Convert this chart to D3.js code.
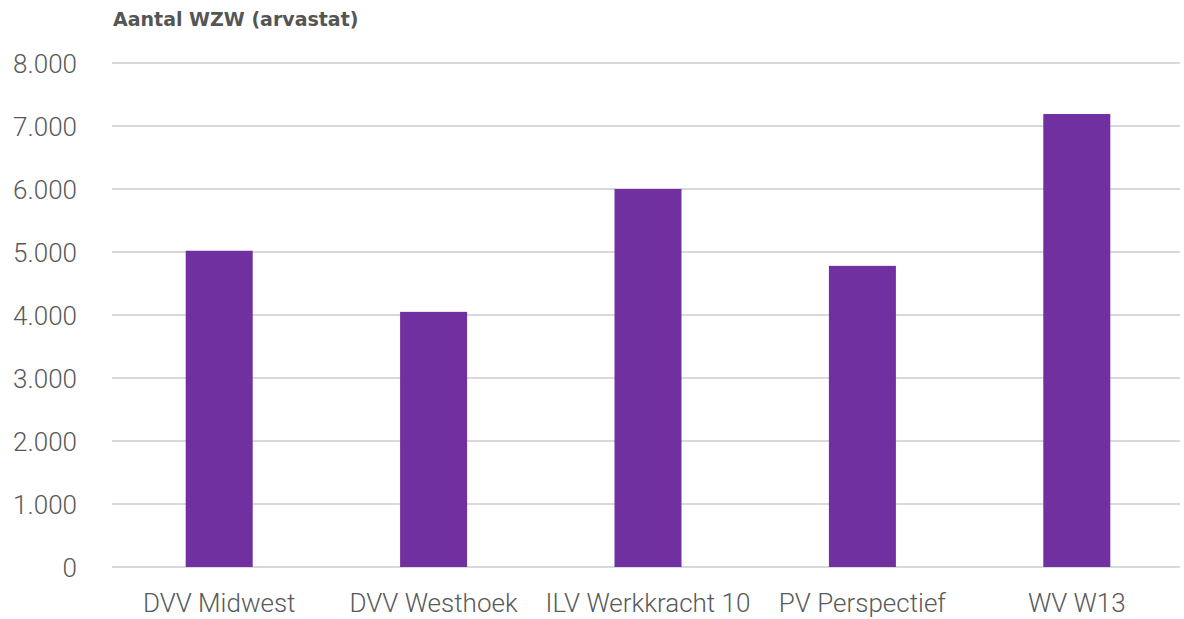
<!DOCTYPE html>
<html>
<head>
<meta charset="utf-8">
<script src="https://cdn.jsdelivr.net/npm/d3@7"></script>
<style>
  body { margin: 0; background: #fff; }
  text { font-family: Roboto, "Open Sans", sans-serif; }
</style>
</head>
<body>
<svg id="chart"></svg>
<script>
var categories = ["DVV Midwest", "DVV Westhoek", "ILV Werkkracht 10", "PV Perspectief", "WV W13"]
var values = [5020, 4050, 6000, 4780, 7190]
var yTicks = [0, 1000, 2000, 3000, 4000, 5000, 6000, 7000, 8000]
var yTitle = "Aantal WZW (arvastat)"

var dimensions = {
    width: 1184,
    height: 619,
    margin: {
        top: 63,
        bottom: 52,
        right: 0,
        left: 112
    }
}

var svg = d3.select("#chart")
    .attr("width", dimensions.width)
    .attr("height", dimensions.height)

var xScale = d3.scaleBand()
    .domain(categories)
    .range([dimensions.margin.left, dimensions.width - dimensions.margin.right])
    .paddingInner(0.6875)
    .paddingOuter(0.34375)

var yScale = d3.scaleLinear()
    .domain([0, 8000])
    .range([dimensions.height - dimensions.margin.bottom, dimensions.margin.top])

var fmt = function(d){ return d3.format(",")(d).replace(/,/g, ".") }

// gridlines
svg.append("g")
    .selectAll("line")
    .data(yTicks)
    .join("line")
    .attr("x1", dimensions.margin.left)
    .attr("x2", dimensions.width - 4)
    .attr("y1", d => yScale(d))
    .attr("y2", d => yScale(d))
    .attr("stroke", "#d9d9d9")
    .attr("stroke-width", 2)

// y labels
svg.append("g")
    .selectAll("text")
    .data(yTicks)
    .join("text")
    .attr("x", 77)
    .attr("y", d => yScale(d) + 10)
    .attr("text-anchor", "end")
    .attr("fill", "#595959")
    .style("font-size", "26px")
    .style("font-weight", 300)
    .text(fmt)

// bars
svg.append("g")
    .selectAll("rect")
    .data(values)
    .join("rect")
    .attr("x", (d, i) => xScale(categories[i]))
    .attr("width", xScale.bandwidth())
    .attr("y", d => yScale(d))
    .attr("height", d => yScale(0) - yScale(d))
    .attr("fill", "#7030a0")

// x labels
svg.append("g")
    .selectAll("text")
    .data(categories)
    .join("text")
    .attr("x", d => xScale(d) + xScale.bandwidth() / 2)
    .attr("y", 612)
    .attr("text-anchor", "middle")
    .attr("fill", "#595959")
    .style("font-size", "26px")
    .style("font-weight", 300)
    .text(d => d)

svg.append("text")
    .attr("x", 113)
    .attr("y", 26)
    .attr("fill", "#555555")
    .style("font-family", "'DejaVu Sans', sans-serif")
    .style("font-size", "19px")
    .style("font-weight", "bold")
    .text(yTitle)
</script>
</body>
</html>
